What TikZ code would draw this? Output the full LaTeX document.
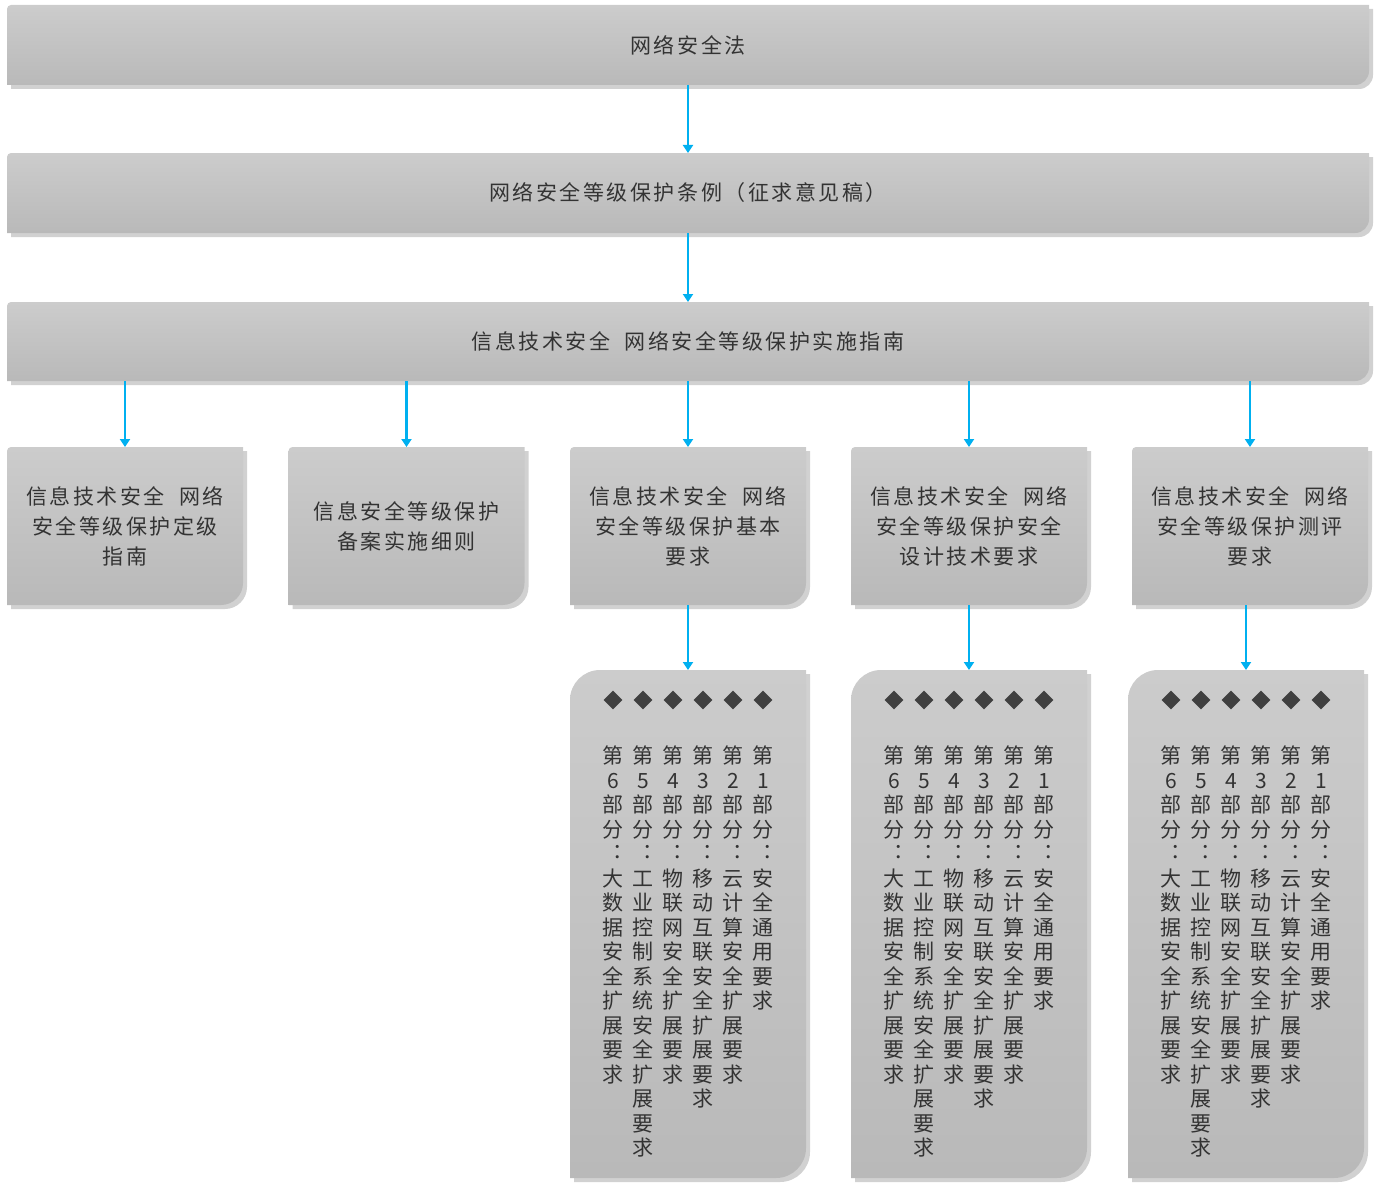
\documentclass[tikz,border=0pt]{standalone}
\usepackage{fontspec}
\setmainfont{Noto Sans CJK SC}[LetterSpace=12]
\usetikzlibrary{arrows.meta,shapes.geometric}
\definecolor{arr}{RGB}{0,176,240}
\newcommand{\shp}[3]{%
 \fill[black!30,opacity=.6] ([shift={(4,4)}]#1.south west) [rounded corners=#2] -- ([shift={(4,4)}]#1.north west) [sharp corners] -- ([shift={(4,4)}]#1.north east) [rounded corners=#3] -- ([shift={(4,4)}]#1.south east) [sharp corners] -- cycle;
 \shade[top color=gray!40,middle color=white!97!gray,bottom color=gray!55] (#1.south west) [rounded corners=#2] -- (#1.north west) [sharp corners] -- (#1.north east) [rounded corners=#3] -- (#1.south east) [sharp corners] -- cycle;}
\def\vt#1{\ifx#1\relax\else#1\\\expandafter\vt\fi}
\tikzset{bx/.style={inner sep=0,outer sep=0,minimum width=#1},
 lab/.style={font=\fontsize{21}{30}\selectfont,text=black!80,align=center},
 col/.style={font=\fontsize{21}{24.5}\selectfont,text=black!80,align=center,anchor=north,inner sep=0},
 ar/.style={arr,line width=2.8pt,-{Triangle[length=8pt,width=10pt]}},
 dm/.style={diamond,fill=black!75,inner sep=0,minimum size=19pt}}
\begin{document}
\begin{tikzpicture}[x=1pt,y=-1pt]
\useasboundingbox (0,0) rectangle (1389,1196);
\node[bx=1362,minimum height=80] (t1) at (688,45) {};
\node[bx=1362,minimum height=80] (t2) at (688,193) {};
\node[bx=1362,minimum height=79] (t3) at (688,341.5) {};
\foreach \n in {t1,t2,t3}{\shp{\n}{4}{14}}
\node[lab] at (t1) {网络安全法};
\node[lab] at (t2) {网络安全等级保护条例（征求意见稿）};
\node[lab] at (t3) {信息技术安全\ \ 网络安全等级保护实施指南};
\foreach \n/\x in {b1/125,b2/406.5,b3/688,b4/969,b5/1250}{
 \node[bx=236,minimum height=158] (\n) at (\x,526) {};
 \shp{\n}{4}{22}}
\node[lab] at (b1) {信息技术安全\ \ 网络\\安全等级保护定级\\指南};
\node[lab] at (b2) {信息安全等级保护\\备案实施细则};
\node[lab] at (b3) {信息技术安全\ \ 网络\\安全等级保护基本\\要求};
\node[lab] at (b4) {信息技术安全\ \ 网络\\安全等级保护安全\\设计技术要求};
\node[lab] at (b5) {信息技术安全\ \ 网络\\安全等级保护测评\\要求};
\foreach \n/\x in {c3/688,c4/969,c5/1246}{
 \node[bx=236,minimum height=508] (\n) at (\x,924) {};
 \shp{\n}{30}{30}
 \foreach \k in {0,...,5}{\node[dm] at (\x-75+30*\k,700) {};}
 \node[col] at (\x+75,746) {\vt 第1部分︓安全通用要求\relax};
 \node[col] at (\x+45,746) {\vt 第2部分︓云计算安全扩展要求\relax};
 \node[col] at (\x+15,746) {\vt 第3部分︓移动互联安全扩展要求\relax};
 \node[col] at (\x-15,746) {\vt 第4部分︓物联网安全扩展要求\relax};
 \node[col] at (\x-45,746) {\vt 第5部分︓工业控制系统安全扩展要求\relax};
 \node[col] at (\x-75,746) {\vt 第6部分︓大数据安全扩展要求\relax};
}
\draw[ar] (t1.south) -- (t2.north);
\draw[ar] (t2.south) -- (t3.north);
\foreach \n in {b1,b2,b3,b4,b5}{\draw[ar] (t3.south -| \n.north) -- (\n.north);}
\draw[ar] (b3.south) -- (c3.north);
\draw[ar] (b4.south) -- (c4.north);
\draw[ar] (b5.south -| c5.north) -- (c5.north);
\end{tikzpicture}
\end{document}
